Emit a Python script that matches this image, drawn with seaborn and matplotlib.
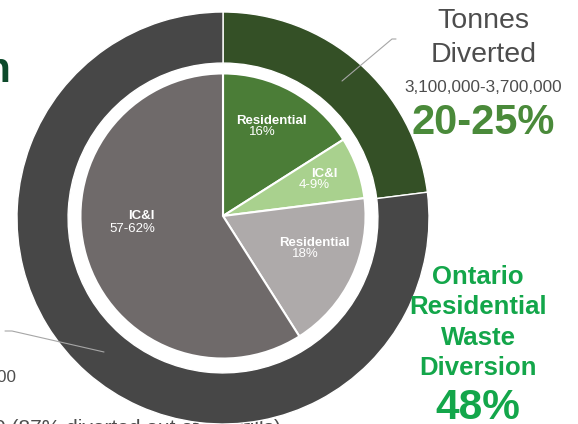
import matplotlib
matplotlib.use("Agg")
import matplotlib.pyplot as plt
import seaborn as sns

# outer ring: share of tonnes diverted
outer_labels = ["Diverted", "Not diverted"]
outer_values = [23, 77]
outer_colors = ["#345026", "#474747"]

# inner pie: sector shares
inner_labels = ["Residential", "IC&I", "Residential", "IC&I"]
inner_values = [16, 7, 18, 59]
inner_texts = ["16%", "4-9%", "18%", "57-62%"]
inner_colors = ["#4b7d37", "#a9d18e", "#aeaaaa", "#6f6a6a"]

sns.set_theme(style="white")
plt.rcParams["font.family"] = ["Liberation Sans", "DejaVu Sans"]

W, H = 578, 424
CX, CY, R = 223, 218, 206


def px(x, y):
    # pixel position -> data units (1 unit = outer radius)
    return (x - CX) / R, (CY - y) / R


fig = plt.figure(figsize=(W / 100, H / 100), dpi=100)
ax = fig.add_axes([0, 0, 1, 1])

ax.pie(outer_values, radius=1.0, startangle=90, counterclock=False,
       colors=outer_colors,
       wedgeprops=dict(width=0.248, edgecolor="white", linewidth=1))
ax.pie(inner_values, radius=0.692, center=px(223, 216), startangle=90,
       counterclock=False, colors=inner_colors,
       wedgeprops=dict(edgecolor="white", linewidth=1.5))

# labels inside the pie
name_pos = [(271, 121), (324, 174), (314, 243), (141, 216)]
pct_pos = [(262, 132), (314, 185), (305, 254), (132, 229)]
for name, pct, p1, p2 in zip(inner_labels, inner_texts, name_pos, pct_pos):
    ax.text(*px(*p1), name, color="white", fontsize=9.5, fontweight="bold",
            ha="center", va="center")
    ax.text(*px(*p2), pct, color="white", fontsize=9.5,
            ha="center", va="center")

# leader lines
x1, y1 = zip(px(342, 81), px(392, 39), px(396, 39))
ax.plot(x1, y1, color="#a6a6a6", lw=0.8)
x2, y2 = zip(px(5, 331), px(12, 331), px(104, 352))
ax.plot(x2, y2, color="#a6a6a6", lw=0.8)

# right-hand annotations
gray = "#4d4d4d"
ax.text(*px(483, 21), "Tonnes", color=gray, fontsize=20.5, ha="center", va="center")
ax.text(*px(484, 55), "Diverted", color=gray, fontsize=20.5, ha="center", va="center")
ax.text(*px(483, 88), "3,100,000-3,700,000", color=gray, fontsize=12.3,
        ha="center", va="center")
ax.text(*px(483, 123), "20-25%", color="#4a8a3a", fontsize=30,
        fontweight="bold", ha="center", va="center")

green = "#13a64a"
for txt, y in zip(["Ontario", "Residential", "Waste", "Diversion"],
                  [277, 307, 338, 368]):
    ax.text(*px(478, y), txt, color=green, fontsize=18.5, fontweight="bold",
            ha="center", va="center")
ax.text(*px(478, 408), "48%", color=green, fontsize=30.5, fontweight="bold",
        ha="center", va="center")

# text cut off at the left / bottom edges, as in the reference
ax.text(*px(11, 82), "Diversion", color="#0d4a2b", fontsize=30,
        fontweight="bold", ha="right", va="baseline")
ax.text(*px(16, 378), "3,100,000", color=gray, fontsize=12.3,
        ha="right", va="center")
ax.text(*px(-6, 419), "0 (87% diverted out of landfills)", color=gray,
        fontsize=15, ha="left", va="top", zorder=0)

ax.set_xlim(-CX / R, (W - CX) / R)
ax.set_ylim(-(H - CY) / R, CY / R)
ax.set_aspect("equal")
ax.axis("off")

fig.savefig("out.png", dpi=100)
